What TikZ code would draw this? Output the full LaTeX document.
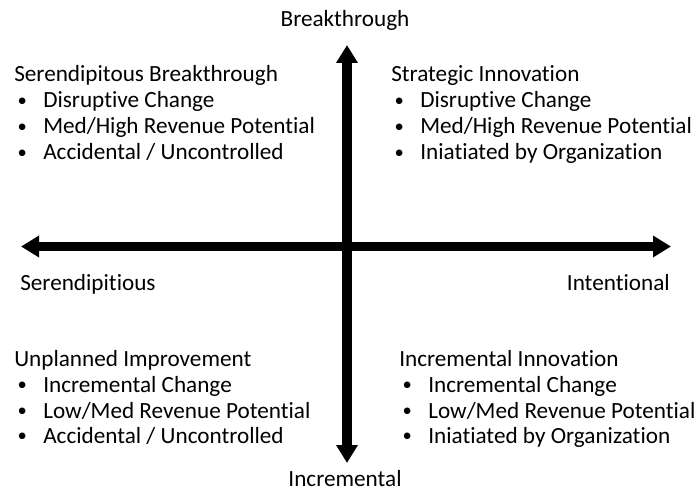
\documentclass[tikz,border=0pt]{standalone}
\usepackage{fontspec}
\setmainfont{Carlito}[Ligatures=NoCommon]
\usetikzlibrary{arrows.meta}
\tikzset{
  lbl/.style={font=\fontsize{17.4}{20}\selectfont,inner sep=0pt,anchor=base west},
  axis/.style={line width=6.8pt,{Triangle[length=13.5pt,width=15.5pt]}-{Triangle[length=13.5pt,width=15.5pt]}}
}
\newcommand{\itm}[1]{\makebox[21.75pt][l]{\hspace{2.5pt}\scalebox{0.8}{\raisebox{1.5pt}{•}}}#1}
\begin{document}
\begin{tikzpicture}[x=0.75pt,y=-0.75pt]
  \useasboundingbox (0,0) rectangle (694,492);

  % Axes
  \coordinate (top) at (347,45);
  \coordinate (bottom) at (347,463);
  \coordinate (left) at (21,246.5);
  \coordinate (right) at (671,246.5);
  \draw[axis] (bottom) -- (top);
  \draw[axis] (left) -- (right);

  % Axis labels
  \node[lbl,anchor=base] (brk) at (345,27) {Breakthrough};
  \node[lbl,anchor=base] (incr) at (345,486) {Incremental};
  \node[lbl] (ser) at (20,291) {Serendipitious};
  \node[lbl,anchor=base east] (intl) at (670,291) {Intentional};

  % Top left
  \node[lbl] (tl) at (14,82) {Serendipitous Breakthrough};
  \node[lbl] (tl1) at (14,108) {\itm{Disruptive Change}};
  \node[lbl] (tl2) at (14,134) {\itm{Med/High Revenue Potential}};
  \node[lbl] (tl3) at (14,160) {\itm{Accidental / Uncontrolled}};

  % Top right
  \node[lbl] (tr) at (391,82) {Strategic Innovation};
  \node[lbl] (tr1) at (391,108) {\itm{Disruptive Change}};
  \node[lbl] (tr2) at (391,134) {\itm{Med/High Revenue Potential}};
  \node[lbl] (tr3) at (391,160) {\itm{Iniatiated by Organization}};

  % Bottom left
  \node[lbl] (bl) at (14,367) {Unplanned Improvement};
  \node[lbl] (bl1) at (14,392.5) {\itm{Incremental Change}};
  \node[lbl] (bl2) at (14,418) {\itm{Low/Med Revenue Potential}};
  \node[lbl] (bl3) at (14,443.5) {\itm{Accidental / Uncontrolled}};

  % Bottom right
  \node[lbl] (br) at (399,367) {Incremental Innovation};
  \node[lbl] (br1) at (399,392.5) {\itm{Incremental Change}};
  \node[lbl] (br2) at (399,418) {\itm{Low/Med Revenue Potential}};
  \node[lbl] (br3) at (399,443.5) {\itm{Iniatiated by Organization}};
\end{tikzpicture}
\end{document}
